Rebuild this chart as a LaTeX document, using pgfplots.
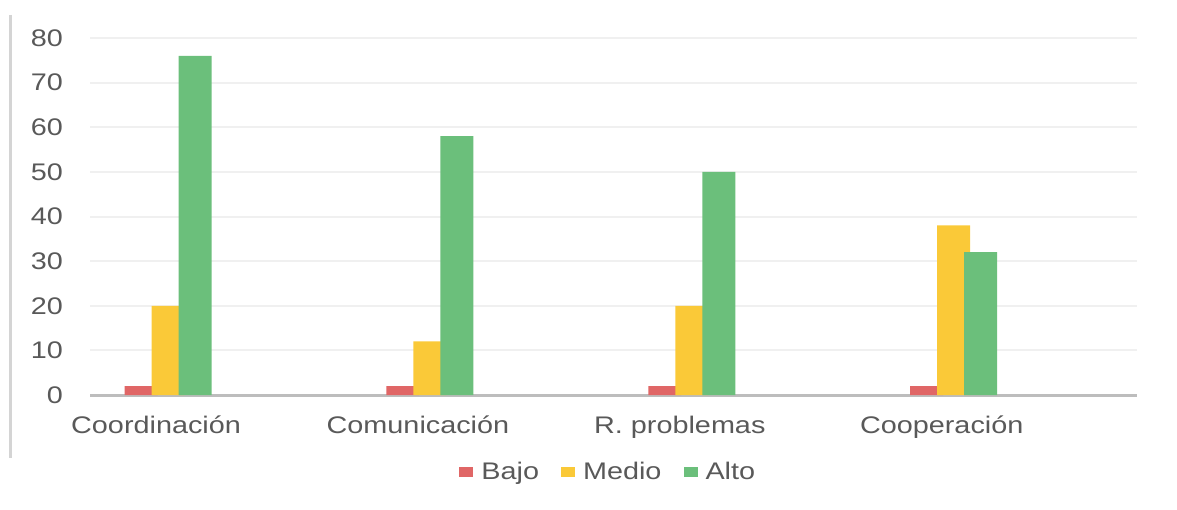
\documentclass[border=0pt]{standalone}
\usepackage{fontspec}
\setmainfont{Liberation Sans}[FakeStretch=1.2]
\usepackage{pgfplots}
\pgfplotsset{compat=1.18}
\definecolor{cBajo}{HTML}{E06666}
\definecolor{cMedio}{HTML}{FAC938}
\definecolor{cAlto}{HTML}{6BBF7B}
\definecolor{txt}{HTML}{595959}
\definecolor{gridc}{HTML}{F0F0F0}
\definecolor{axc}{HTML}{BDBDBD}
\definecolor{bordc}{HTML}{D4D4D4}
\begin{document}
\begin{tikzpicture}
\path[use as bounding box] (0pt,0pt) rectangle (1177pt,509pt);
\draw[bordc, line width=3pt] (10pt,494pt) -- (10pt,51pt);
\begin{axis}[
  at={(90pt,114pt)}, anchor=south west,
  scale only axis, width=1047pt, height=357pt,
  ymin=0, ymax=80, ytick={0,10,...,80},
  xmin=-0.298, xmax=3.70,
  xtick={0,1,2,3},
  xticklabels={Coordinación,Comunicación,R. problemas,Cooperación},
  ybar, bar width=33pt,
  axis x line*=bottom, axis y line*=left,
  y axis line style={draw=none},
  x axis line style={draw=axc, line width=3pt},
  major tick length=0pt,
  ymajorgrids, grid style={draw=gridc, line width=2pt},
  tick label style={font=\fontsize{24}{28}\selectfont, text=txt, inner sep=0pt},
  /pgf/number format/assume math mode=true,
  yticklabel style={anchor=east, xshift=-27pt},
  xticklabel style={anchor=base, xshift=-12pt, yshift=-38pt},
  legend columns=-1,
  legend style={at={(axis description cs:0.495,-0.215)}, anchor=center,
    draw=none, fill=none, font=\fontsize{24}{28}\selectfont, text=txt,
    /tikz/every odd column/.append style={column sep=6pt},
    /tikz/every even column/.append style={column sep=20pt},
    cells={anchor=west}},
  legend image code/.code={\fill[#1] (0pt,-5pt) rectangle (14pt,5pt);},
]
\addplot[fill=cBajo, draw=none, bar shift=-27pt] coordinates {(0,2) (1,2) (2,2) (3,2)};
\addplot[fill=cMedio, draw=none, bar shift=0pt] coordinates {(0,20) (1,12) (2,20) (3,38)};
\addplot[fill=cAlto, draw=none, bar shift=27pt] coordinates {(0,76) (1,58) (2,50) (3,32)};
\legend{Bajo,Medio,Alto}
\end{axis}
\end{tikzpicture}
\end{document}
